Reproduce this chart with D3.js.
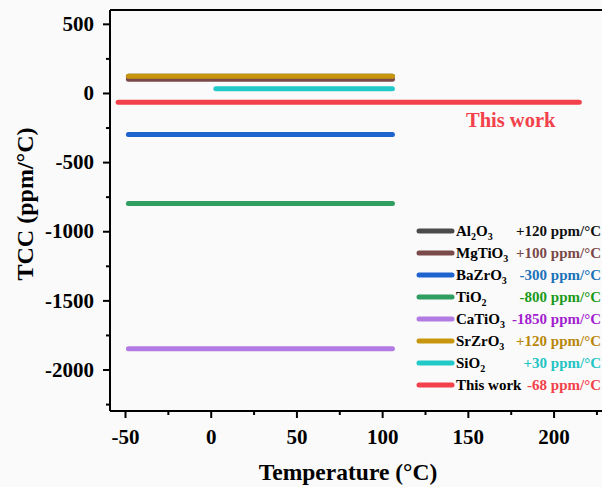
<!DOCTYPE html>
<html>
<head>
<meta charset="utf-8">
<script src="https://cdn.jsdelivr.net/npm/d3@7"></script>
<style>
  html, body { margin: 0; padding: 0; background: #fafafa; }
  svg { display: block; }
  text { font-family: "Liberation Serif", "Times New Roman", serif; font-weight: bold; }
</style>
</head>
<body>
<svg id="chart" width="602" height="487"></svg>
<script>
// ---- data ----
const materials   = ["Al2O3", "MgTiO3", "BaZrO3", "TiO2", "CaTiO3", "SrZrO3", "SiO2", "This work"];
const tccValues   = [120, 100, -300, -800, -1850, 120, 30, -68];
const tempStart   = [-48, -48, -48, -48, -48, -48, 3, -54];
const tempEnd     = [106, 106, 106, 106, 106, 106, 106, 215];
const valueLabels = ["+120 ppm/°C", "+100 ppm/°C", "-300 ppm/°C", "-800 ppm/°C",
                     "-1850 ppm/°C", "+120 ppm/°C", "+30 ppm/°C", "-68 ppm/°C"];
const lineColors  = ["#4b4b4b", "#7a4a4a", "#1f63cf", "#2f9e60", "#b27be3", "#c8960c", "#22c9c9", "#f2414a"];
const textColors  = ["#111111", "#7a4848", "#1a72b8", "#1a9a1a", "#a31ed0", "#b8860b", "#22c4c4", "#f2414a"];
const xTicks      = [-50, 0, 50, 100, 150, 200];
const yTicks      = [500, 0, -500, -1000, -1500, -2000];
const xLabel = "Temperature (°C)";
const yLabel = "TCC (ppm/°C)";
const highlightLabel = "This work";

// ---- layout ----
const svg = d3.select("#chart");
const plot = { left: 110, top: 10, right: 605, bottom: 411 };
const x = d3.scaleLinear().domain([-58.75, 230]).range([plot.left, plot.right]);
const y = d3.scaleLinear().domain([-2300, 600]).range([plot.bottom, plot.top]);
const fmt = d => String(d);

// frame (top + right)
svg.append("path")
  .attr("d", `M${plot.left},${plot.top}H${plot.right}V${plot.bottom}`)
  .attr("fill", "none").attr("stroke", "#000").attr("stroke-width", 2);

// data lines
const g = svg.append("g");
materials.forEach((m, i) => {
  g.append("line")
    .attr("x1", x(tempStart[i])).attr("x2", x(tempEnd[i]))
    .attr("y1", y(tccValues[i])).attr("y2", y(tccValues[i]))
    .attr("stroke", lineColors[i]).attr("stroke-width", 5)
    .attr("stroke-linecap", "round");
});

// axes
const xMinor = d3.range(-25, 231, 50);
const yMinor = d3.range(-2250, 600, 500);

const xAxis = svg.append("g").attr("transform", `translate(0,${plot.bottom})`);
xAxis.call(d3.axisBottom(x).tickValues(xMinor).tickSize(4).tickFormat(""));
xAxis.call(g2 => g2.append("g").call(d3.axisBottom(x).tickValues(xTicks).tickSize(7).tickPadding(6).tickFormat(fmt)));
xAxis.selectAll(".domain").attr("stroke-width", 2).attr("d", `M${plot.left},0H${plot.right}`);
xAxis.selectAll(".tick line").attr("stroke-width", 2);
xAxis.selectAll(".tick text").attr("font-size", 21).attr("fill", "#000").attr("dy", "0.95em");

const yAxis = svg.append("g").attr("transform", `translate(${plot.left},0)`);
yAxis.call(d3.axisLeft(y).tickValues(yMinor).tickSize(4).tickFormat(""));
yAxis.call(g2 => g2.append("g").call(d3.axisLeft(y).tickValues(yTicks).tickSize(7).tickPadding(9).tickFormat(fmt)));
yAxis.selectAll(".domain").attr("stroke-width", 2).attr("d", `M0,${plot.bottom}V${plot.top}`);
yAxis.selectAll(".tick line").attr("stroke-width", 2);
yAxis.selectAll(".tick text").attr("font-size", 21).attr("fill", "#000");
svg.selectAll(".domain").attr("stroke", "#000");
// remove empty minor-tick labels
svg.selectAll(".tick text").filter(function () { return this.textContent === ""; }).remove();

// axis titles
svg.append("text").attr("x", 348).attr("y", 480).attr("text-anchor", "middle")
  .attr("font-size", 23.5).attr("fill", "#000").text(xLabel);
svg.append("text").attr("transform", "translate(33,204) rotate(-90)").attr("text-anchor", "middle")
  .attr("font-size", 24).attr("fill", "#000").text(yLabel);

// highlight label
svg.append("text").attr("x", x(175)).attr("y", y(-68) + 25).attr("text-anchor", "middle")
  .attr("font-size", 20.5).attr("fill", lineColors[7]).text(highlightLabel);

// legend
function addChem(textSel, name) {
  const parts = name.match(/[^0-9]+|[0-9]+/g);
  let shift = 0;
  parts.forEach(p => {
    if (/^[0-9]+$/.test(p)) {
      textSel.append("tspan").attr("font-size", 10).attr("dy", 4 - shift).text(p);
      shift = 4;
    } else {
      textSel.append("tspan").attr("dy", -shift).text(p);
      shift = 0;
    }
  });
}
const legend = svg.append("g");
materials.forEach((m, i) => {
  const cy = 231 + i * 22;
  legend.append("line").attr("x1", 419).attr("x2", 452).attr("y1", cy).attr("y2", cy)
    .attr("stroke", lineColors[i]).attr("stroke-width", 5).attr("stroke-linecap", "round");
  const t = legend.append("text").attr("x", 456).attr("y", cy + 5).attr("font-size", 15).attr("fill", "#000");
  addChem(t, m);
  legend.append("text").attr("x", 601).attr("y", cy + 5).attr("text-anchor", "end")
    .attr("font-size", 15).attr("fill", textColors[i]).text(valueLabels[i]);
});
</script>
</body>
</html>
